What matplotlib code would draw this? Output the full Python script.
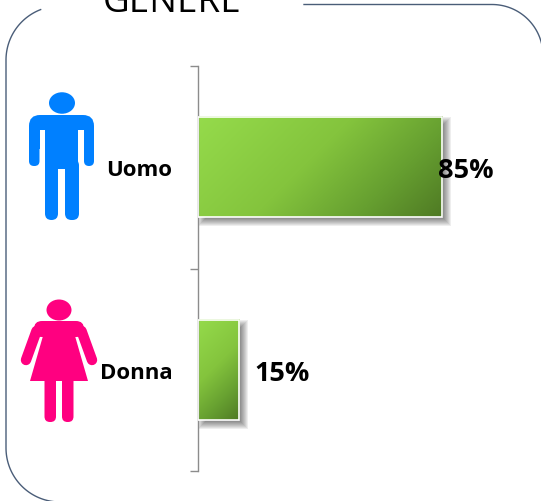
import numpy as np
import matplotlib
matplotlib.use("Agg")
import matplotlib.pyplot as plt
from matplotlib.colors import LinearSegmentedColormap
from matplotlib.patches import Ellipse, FancyBboxPatch, Polygon, Rectangle
from matplotlib.transforms import IdentityTransform

plt.rcParams["font.family"] = ["Open Sans", "DejaVu Sans"]

categories = ["Uomo", "Donna"]
values = [85.4, 14.4]
value_labels = ["85%", "15%"]
label_offsets = [-4, 16]
title = "GENERE"

W, H = 541, 502
BLUE = "#0080FF"
PINK = "#FF0080"
FRAME = "#4A5D78"
AXIS = "#8C8C8C"

fig = plt.figure(figsize=(W / 100, H / 100), dpi=100)

# background layer in pixel coordinates, frame + icons
bg = fig.add_axes([0, 0, 1, 1])
bg.set_xlim(0, W)
bg.set_ylim(H, 0)
bg.axis("off")


def arc(cx, cy, r, a0, a1):
    t = np.radians(np.linspace(a0, a1, 40))
    return cx + r * np.cos(t), cy + r * np.sin(t)


# frame has a gap at the top where the title sits
xa, ya = arc(60, 61, 54, 249, 180)
xb, yb = arc(60, 449, 54, 180, 90)
bg.plot(np.r_[xa, xb, 543], np.r_[ya, yb, 503], color=FRAME, lw=1.0)
xc, yc = arc(492, 56.5, 51, 270, 360)
bg.plot(np.r_[304, xc], np.r_[5.5, yc], color=FRAME, lw=1.0)

bg.text(172.5, 12.5, title, ha="center", va="baseline", fontsize=26.5, color="black", clip_on=False)


def rounded(x0, y0, x1, y1, r, color):
    bg.add_patch(FancyBboxPatch((x0 + r, y0 + r), x1 - x0 - 2 * r, y1 - y0 - 2 * r,
                                boxstyle="round,pad=%f,rounding_size=%f" % (r, r),
                                fc=color, ec="none"))


# man
bg.add_patch(Ellipse((62, 104), 26, 21.5, fc=BLUE, ec="none"))
rounded(29, 116, 94, 150, 11, BLUE)
rounded(29, 125, 39.5, 167, 5, BLUE)
rounded(84, 125, 94, 167, 5, BLUE)
bg.add_patch(Rectangle((39.5, 131), 5.5, 30, fc="white", ec="none"))
bg.add_patch(Rectangle((78, 131), 6, 30, fc="white", ec="none"))
bg.add_patch(Rectangle((45, 125), 33, 45, fc=BLUE, ec="none"))
rounded(45, 160, 58, 221, 6.5, BLUE)
rounded(65, 160, 79, 221, 6.5, BLUE)

# woman
bg.add_patch(Ellipse((59, 311), 25, 21, fc=PINK, ec="none"))
rounded(34, 322, 84, 338, 8, PINK)
bg.plot([36.5, 26], [332, 361], color=PINK, lw=7.5, solid_capstyle="round")
bg.plot([81.5, 92], [332, 361], color=PINK, lw=7.5, solid_capstyle="round")
bg.add_patch(Polygon([(45, 330), (73, 330), (88, 382), (30, 382)], fc=PINK, ec="none"))
rounded(44.5, 370, 56, 423, 5.5, PINK)
rounded(62, 370, 73.5, 423, 5.5, PINK)

# chart layer
ax = fig.add_axes([197.5 / W, (H - 472) / H, (W - 197.5) / W, 405 / H])
ax.patch.set_alpha(0)
y = np.arange(len(categories))
bars = ax.barh(y, values, height=0.494, color="none", edgecolor="none", zorder=3)
ax.set_xlim(0, 120.2)
ax.set_ylim(1.5, -0.5)

cmap = LinearSegmentedColormap.from_list(
    "green", [(0, "#95DB4B"), (0.45, "#84C43D"), (0.75, "#669F30"), (1, "#4F7A24")])

for bar in bars:
    x0, y0, w, h = bar.get_x(), bar.get_y(), bar.get_width(), bar.get_height()
    p = ax.transData.transform([(x0, y0), (x0 + w, y0 + h)])
    wp, hp = abs(p[1, 0] - p[0, 0]), abs(p[1, 1] - p[0, 1])
    # soft shadow: stacked faint boxes in display pixels, shifted down/right
    left, bottom = p[0, 0], p[1, 1]
    for pad in np.arange(4.5, -4, -1.0):
        ax.add_patch(Rectangle((left + 4.5 - pad, bottom - 4.5 - pad), wp + 2 * pad, hp + 2 * pad,
                               fc="black", ec="none", alpha=0.065,
                               transform=IdentityTransform(), zorder=1, clip_on=False))
    # gradient runs corner to corner by pixel distance
    gx, gy = np.meshgrid(np.linspace(0, 1, 200), np.linspace(0, 1, 200))
    grad = (wp * gx + hp * gy) / (wp + hp)
    ax.imshow(grad, cmap=cmap, vmin=0, vmax=1, aspect="auto", zorder=2,
              extent=(x0, x0 + w, y0 + h, y0))
    ax.add_patch(Rectangle((x0, y0), w, h, fc="none", ec="white", lw=1.2, zorder=3))

ax.set_xlim(0, 120.2)
ax.set_ylim(1.5, -0.5)

for i, v in enumerate(values):
    ax.annotate(value_labels[i], xy=(v, y[i]), xytext=(label_offsets[i] * 0.72, -2),
                textcoords="offset points", ha="left", va="center",
                fontsize=19.5, fontweight="bold", color="black", zorder=5)

for s in ["top", "right", "bottom"]:
    ax.spines[s].set_visible(False)
ax.spines["left"].set_color(AXIS)
ax.spines["left"].set_linewidth(1.0)
ax.xaxis.set_visible(False)

ax.set_yticks([-0.5, 0.5, 1.5])
ax.set_yticklabels([])
ax.tick_params(axis="y", which="major", length=6, width=1.0, color=AXIS)
ax.set_yticks(y, minor=True)
ax.set_yticklabels(categories, minor=True, fontsize=16, fontweight="bold")
ax.tick_params(axis="y", which="minor", length=0, pad=18)

fig.savefig("out.png", dpi=100)
